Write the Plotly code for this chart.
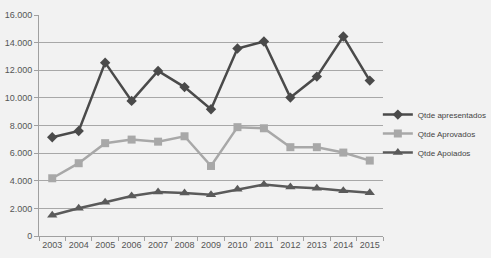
import plotly.graph_objects as go

years = [str(y) for y in range(2003, 2016)]
apresentados = [7150, 7600, 12550, 9780, 11950, 10780, 9180, 13570, 14080, 10020, 11540, 14440, 11250]
aprovados = [4180, 5270, 6720, 6980, 6830, 7220, 5070, 7880, 7800, 6430, 6430, 6040, 5460]
apoiados = [1500, 2010, 2440, 2900, 3190, 3120, 2990, 3380, 3720, 3550, 3460, 3280, 3140]
y_ticks = [0, 2000, 4000, 6000, 8000, 10000, 12000, 14000, 16000]

fig = go.Figure()
fig.add_trace(go.Scatter(x=years, y=apresentados, name="Qtde apresentados", mode="lines+markers",
                         line=dict(color="#4a4a4a", width=2.5),
                         marker=dict(symbol="diamond", size=8, color="#4a4a4a")))
fig.add_trace(go.Scatter(x=years, y=aprovados, name="Qtde Aprovados", mode="lines+markers",
                         line=dict(color="#a8a8a8", width=2.5),
                         marker=dict(symbol="square", size=8, color="#a8a8a8")))
fig.add_trace(go.Scatter(x=years, y=apoiados, name="Qtde Apoiados", mode="lines+markers",
                         line=dict(color="#5a5a5a", width=2.5),
                         marker=dict(symbol="triangle-up", size=9, color="#5a5a5a")))

fig.update_layout(
    width=491, height=258,
    margin=dict(l=39, r=108, t=15, b=22, autoexpand=False),
    paper_bgcolor="#f2f2f2", plot_bgcolor="#f2f2f2",
    separators=",.",
    font=dict(family="Liberation Sans, Arial, sans-serif", size=9, color="#555555"),
    showlegend=True,
    legend=dict(x=0.985, y=0.615, xanchor="left", yanchor="top", bgcolor="rgba(0,0,0,0)",
                font=dict(size=8, color="#444444"), tracegroupgap=0, itemwidth=30),
    xaxis=dict(type="category", range=[-0.5, 12.5], showgrid=False, showline=True,
               linecolor="#a0a0a0", linewidth=1, ticks="outside", tickson="boundaries",
               ticklen=4, tickcolor="#a0a0a0", tickangle=0,
               tickfont=dict(size=9, color="#555555"), fixedrange=True),
    yaxis=dict(range=[0, 16000], tickvals=y_ticks, tickformat=",d", showgrid=True,
               gridcolor="#a8a8a8", gridwidth=1, showline=True, linecolor="#a0a0a0",
               ticks="outside", ticklen=4, tickcolor="#a0a0a0", zeroline=False,
               tickfont=dict(size=9, color="#555555"), fixedrange=True),
)

fig.write_html("out.html", config={"displayModeBar": False},
               post_script="document.body.style.margin='0';document.body.style.padding='0';")
